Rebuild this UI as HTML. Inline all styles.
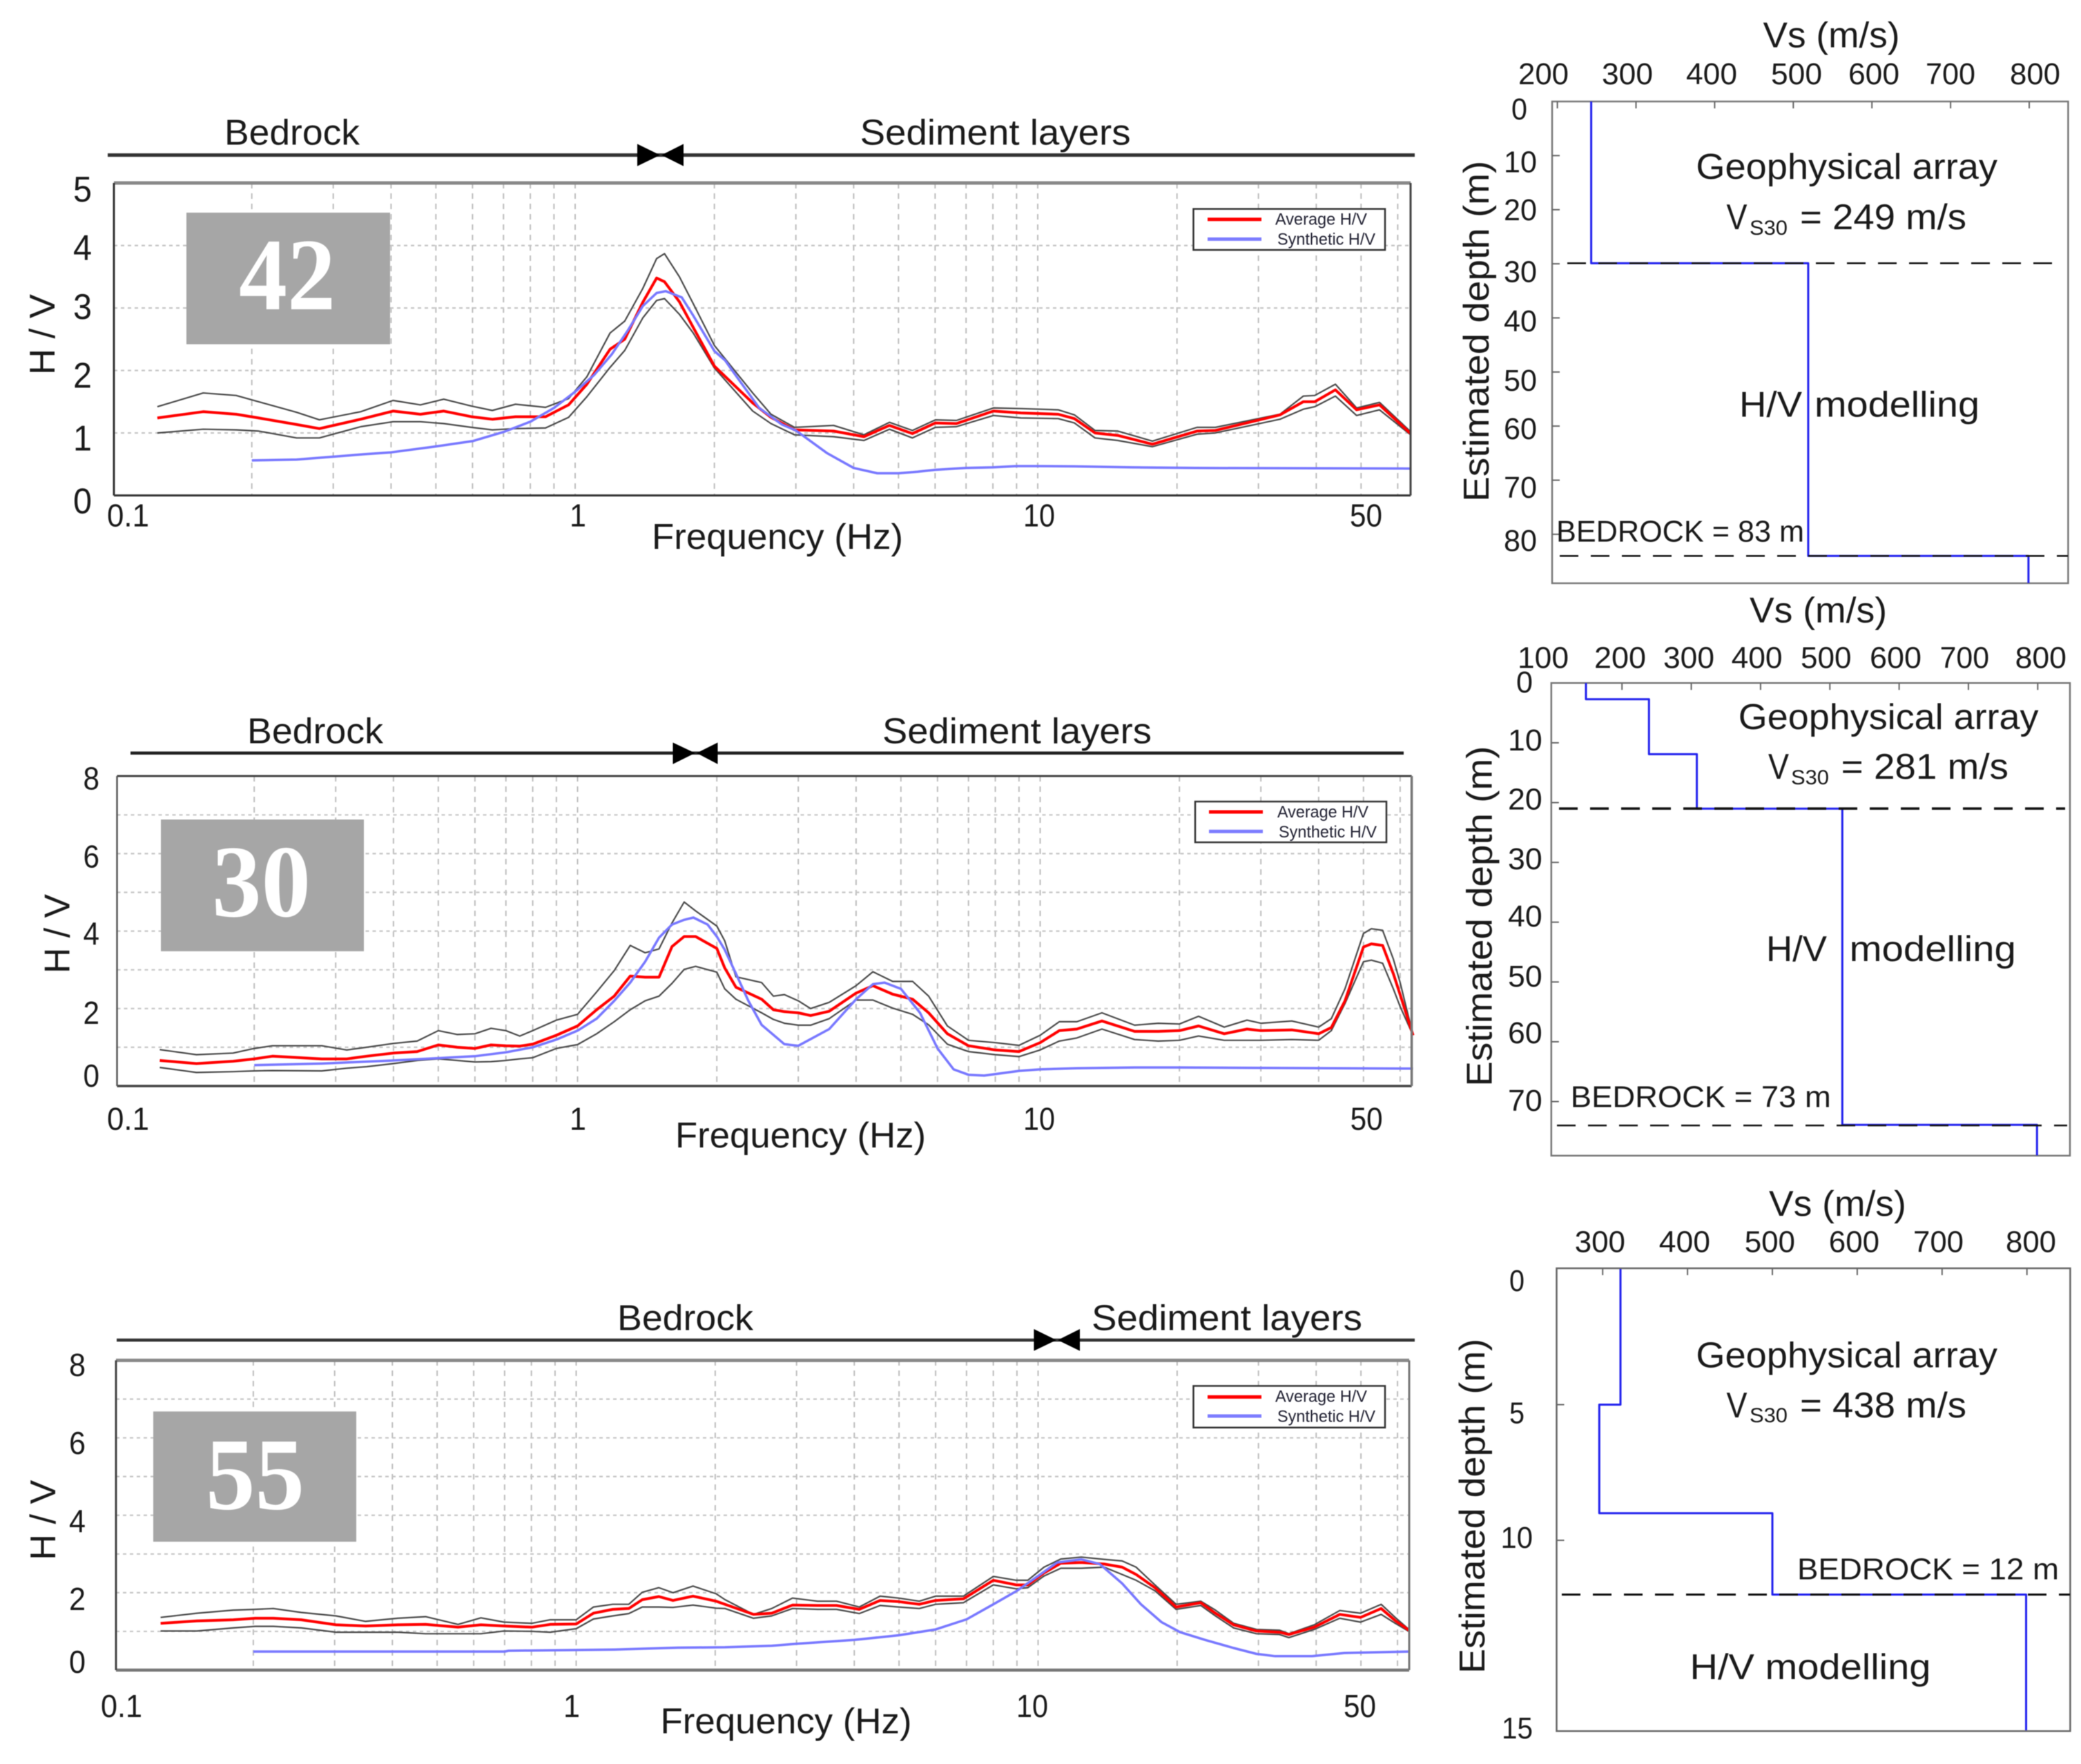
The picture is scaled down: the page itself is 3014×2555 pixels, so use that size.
<!DOCTYPE html>
<html lang="en">
<head>
<meta charset="utf-8">
<title>H/V curves and Vs profiles</title>
<style>
html,body{margin:0;padding:0;background:#fff;}
svg{display:block;filter:blur(0.6px);}
text{font-family:"Liberation Sans",sans-serif;fill:#1a1a1a;}
.t{font-size:52px;}
.tk{font-size:46px;}
.rt{font-size:44px;}
.lg{font-size:24px;fill:#223;}
.num{font-family:"Liberation Serif",serif;font-weight:bold;font-size:149px;fill:#fff;}
.sub{font-size:30px;}
</style>
</head>
<body>
<svg id="figure" xmlns="http://www.w3.org/2000/svg" width="3014" height="2555" viewBox="0 0 3014 2555">
<rect x="0" y="0" width="3014" height="2555" fill="#fff"/>

<!-- ============ PANEL 42 ============ -->
<g>
  <line x1="156" y1="224.6" x2="2049" y2="224.6" stroke="#333" stroke-width="5"/>
  <polygon points="923,208.5 956,224.6 923,240.6" fill="#000"/>
  <polygon points="990,208.5 958,224.6 990,240.6" fill="#000"/>
  <text class="t" x="325" y="209.4" textLength="196" lengthAdjust="spacingAndGlyphs">Bedrock</text>
  <text class="t" x="1245.6" y="209.4" textLength="392" lengthAdjust="spacingAndGlyphs">Sediment layers</text>
  <g id="p1-marks"></g>
  <line x1="165" y1="265" x2="2043" y2="265" stroke="#888" stroke-width="5"/>
  <line x1="165" y1="717.6" x2="2043" y2="717.6" stroke="#333" stroke-width="3"/>
  <line x1="165" y1="265" x2="165" y2="717.6" stroke="#333" stroke-width="3"/>
  <line x1="2043" y1="265" x2="2043" y2="717.6" stroke="#444" stroke-width="3"/>
  <rect x="270" y="308" width="295" height="190.6" fill="#a6a6a6"/>
  <text class="num" x="346" y="448" textLength="140" lengthAdjust="spacingAndGlyphs">42</text>
  <g>
    <text class="t" x="106" y="291.8" textLength="27" lengthAdjust="spacingAndGlyphs">5</text>
    <text class="t" x="106" y="376.3" textLength="27" lengthAdjust="spacingAndGlyphs">4</text>
    <text class="t" x="106" y="461.8" textLength="27" lengthAdjust="spacingAndGlyphs">3</text>
    <text class="t" x="106" y="561.5" textLength="27" lengthAdjust="spacingAndGlyphs">2</text>
    <text class="t" x="106" y="652.6" textLength="27" lengthAdjust="spacingAndGlyphs">1</text>
    <text class="t" x="106" y="743.6" textLength="27" lengthAdjust="spacingAndGlyphs">0</text>
  </g>
  <g>
    <text class="tk" x="155" y="762.3" textLength="61" lengthAdjust="spacingAndGlyphs">0.1</text>
    <text class="tk" x="825" y="762.3" textLength="24" lengthAdjust="spacingAndGlyphs">1</text>
    <text class="tk" x="1482" y="762.3" textLength="46" lengthAdjust="spacingAndGlyphs">10</text>
    <text class="tk" x="1955" y="762.3" textLength="47" lengthAdjust="spacingAndGlyphs">50</text>
  </g>
  <text class="t" x="944" y="794.8" textLength="364" lengthAdjust="spacingAndGlyphs">Frequency (Hz)</text>
  <text class="t" transform="translate(79,543) rotate(-90)" textLength="117" lengthAdjust="spacingAndGlyphs">H / V</text>
  <g>
    <rect x="1728.5" y="302.6" width="277.5" height="59.4" fill="#fff" stroke="#333" stroke-width="2.5"/>
    <line x1="1749" y1="317.8" x2="1827" y2="317.8" stroke="#f00" stroke-width="5"/>
    <line x1="1749" y1="346.4" x2="1827" y2="346.4" stroke="#7c7cff" stroke-width="5"/>
    <text class="lg" x="1847" y="325.6" textLength="133" lengthAdjust="spacingAndGlyphs">Average H/V</text>
    <text class="lg" x="1850" y="354.7" textLength="142" lengthAdjust="spacingAndGlyphs">Synthetic H/V</text>
  </g>
</g>

<!-- ============ PANEL 30 ============ -->
<g>
  <line x1="189" y1="1090.7" x2="2033" y2="1090.7" stroke="#222" stroke-width="4.5"/>
  <polygon points="974.5,1075.5 1006.7,1090.7 974.5,1106.7" fill="#000"/>
  <polygon points="1039.5,1075.5 1009,1090.7 1039.5,1106.7" fill="#000"/>
  <text class="t" x="358" y="1076.4" textLength="197" lengthAdjust="spacingAndGlyphs">Bedrock</text>
  <text class="t" x="1278" y="1076.4" textLength="390" lengthAdjust="spacingAndGlyphs">Sediment layers</text>
  <g id="p2-marks"></g>
  <line x1="169.5" y1="1124" x2="2044.6" y2="1124" stroke="#444" stroke-width="3"/>
  <line x1="169.5" y1="1573" x2="2044.6" y2="1573" stroke="#444" stroke-width="3.5"/>
  <line x1="169.5" y1="1124" x2="169.5" y2="1573" stroke="#555" stroke-width="2.5"/>
  <line x1="2044.6" y1="1124" x2="2044.6" y2="1573" stroke="#777" stroke-width="3.5"/>
  <rect x="233" y="1187" width="294" height="190.8" fill="#a6a6a6"/>
  <text class="num" x="307" y="1327" textLength="143" lengthAdjust="spacingAndGlyphs">30</text>
  <g>
    <text class="tk" x="120.5" y="1143.6" textLength="23.5" lengthAdjust="spacingAndGlyphs">8</text>
    <text class="tk" x="120.5" y="1256.3" textLength="23.5" lengthAdjust="spacingAndGlyphs">6</text>
    <text class="tk" x="120.5" y="1368" textLength="23.5" lengthAdjust="spacingAndGlyphs">4</text>
    <text class="tk" x="120.5" y="1483" textLength="23.5" lengthAdjust="spacingAndGlyphs">2</text>
    <text class="tk" x="120.5" y="1573.8" textLength="23.5" lengthAdjust="spacingAndGlyphs">0</text>
  </g>
  <g>
    <text class="tk" x="155" y="1636.7" textLength="61" lengthAdjust="spacingAndGlyphs">0.1</text>
    <text class="tk" x="825" y="1636.7" textLength="24" lengthAdjust="spacingAndGlyphs">1</text>
    <text class="tk" x="1482" y="1636.7" textLength="46" lengthAdjust="spacingAndGlyphs">10</text>
    <text class="tk" x="1955.6" y="1636.7" textLength="47" lengthAdjust="spacingAndGlyphs">50</text>
  </g>
  <text class="t" x="978" y="1661.8" textLength="363" lengthAdjust="spacingAndGlyphs">Frequency (Hz)</text>
  <text class="t" transform="translate(100.5,1410) rotate(-90)" textLength="115" lengthAdjust="spacingAndGlyphs">H / V</text>
  <g>
    <rect x="1731" y="1161" width="277" height="59" fill="#fff" stroke="#333" stroke-width="2.5"/>
    <line x1="1751" y1="1176" x2="1829" y2="1176" stroke="#f00" stroke-width="5"/>
    <line x1="1751" y1="1204.3" x2="1829" y2="1204.3" stroke="#7c7cff" stroke-width="5"/>
    <text class="lg" x="1850" y="1184" textLength="132" lengthAdjust="spacingAndGlyphs">Average H/V</text>
    <text class="lg" x="1852" y="1213" textLength="142" lengthAdjust="spacingAndGlyphs">Synthetic H/V</text>
  </g>
</g>

<!-- ============ PANEL 55 ============ -->
<g>
  <line x1="169" y1="1941" x2="2049" y2="1941" stroke="#333" stroke-width="4.5"/>
  <polygon points="1497.4,1925 1530,1941 1497.4,1956.6" fill="#000"/>
  <polygon points="1564,1925 1532,1941 1564,1956.6" fill="#000"/>
  <text class="t" x="894" y="1926.5" textLength="197" lengthAdjust="spacingAndGlyphs">Bedrock</text>
  <text class="t" x="1581" y="1926.5" textLength="392" lengthAdjust="spacingAndGlyphs">Sediment layers</text>
  <g id="p3-marks"></g>
  <line x1="168" y1="1970.4" x2="2041" y2="1970.4" stroke="#888" stroke-width="5"/>
  <line x1="168" y1="2419" x2="2041" y2="2419" stroke="#777" stroke-width="4.5"/>
  <line x1="168" y1="1970.4" x2="168" y2="2419" stroke="#444" stroke-width="3"/>
  <line x1="2041" y1="1970.4" x2="2041" y2="2419" stroke="#777" stroke-width="3"/>
  <rect x="222" y="2044.4" width="294" height="188.6" fill="#a6a6a6"/>
  <text class="num" x="298" y="2185.6" textLength="143" lengthAdjust="spacingAndGlyphs">55</text>
  <g>
    <text class="tk" x="100" y="1993" textLength="24" lengthAdjust="spacingAndGlyphs">8</text>
    <text class="tk" x="100" y="2106" textLength="24" lengthAdjust="spacingAndGlyphs">6</text>
    <text class="tk" x="100" y="2219" textLength="24" lengthAdjust="spacingAndGlyphs">4</text>
    <text class="tk" x="100" y="2332" textLength="24" lengthAdjust="spacingAndGlyphs">2</text>
    <text class="tk" x="100" y="2423" textLength="24" lengthAdjust="spacingAndGlyphs">0</text>
  </g>
  <g>
    <text class="tk" x="146" y="2487" textLength="60" lengthAdjust="spacingAndGlyphs">0.1</text>
    <text class="tk" x="816" y="2487" textLength="24" lengthAdjust="spacingAndGlyphs">1</text>
    <text class="tk" x="1472" y="2487" textLength="46" lengthAdjust="spacingAndGlyphs">10</text>
    <text class="tk" x="1946" y="2487" textLength="47" lengthAdjust="spacingAndGlyphs">50</text>
  </g>
  <text class="t" x="956.5" y="2510.6" textLength="364" lengthAdjust="spacingAndGlyphs">Frequency (Hz)</text>
  <text class="t" transform="translate(80,2259.7) rotate(-90)" textLength="116" lengthAdjust="spacingAndGlyphs">H / V</text>
  <g>
    <rect x="1728.5" y="2007.4" width="277.5" height="60.3" fill="#fff" stroke="#333" stroke-width="2.5"/>
    <line x1="1749" y1="2023.4" x2="1827" y2="2023.4" stroke="#f00" stroke-width="5"/>
    <line x1="1749" y1="2051" x2="1827" y2="2051" stroke="#7c7cff" stroke-width="5"/>
    <text class="lg" x="1847" y="2030.7" textLength="133" lengthAdjust="spacingAndGlyphs">Average H/V</text>
    <text class="lg" x="1850" y="2059.5" textLength="142" lengthAdjust="spacingAndGlyphs">Synthetic H/V</text>
  </g>
</g>

<!-- ============ PROFILE 1 ============ -->
<g>
  <text class="t" x="2553.5" y="68.6" textLength="198" lengthAdjust="spacingAndGlyphs">Vs (m/s)</text>
  <g>
    <text class="rt" x="2199" y="121.8" textLength="73" lengthAdjust="spacingAndGlyphs">200</text>
    <text class="rt" x="2320" y="121.8" textLength="74" lengthAdjust="spacingAndGlyphs">300</text>
    <text class="rt" x="2442" y="121.8" textLength="74" lengthAdjust="spacingAndGlyphs">400</text>
    <text class="rt" x="2565" y="121.8" textLength="74" lengthAdjust="spacingAndGlyphs">500</text>
    <text class="rt" x="2677" y="121.8" textLength="74" lengthAdjust="spacingAndGlyphs">600</text>
    <text class="rt" x="2789" y="121.8" textLength="72" lengthAdjust="spacingAndGlyphs">700</text>
    <text class="rt" x="2911" y="121.8" textLength="73" lengthAdjust="spacingAndGlyphs">800</text>
  </g>
  <g>
    <text class="rt" x="2189" y="172.8" textLength="23" lengthAdjust="spacingAndGlyphs">0</text>
    <text class="rt" x="2178" y="249.6" textLength="48" lengthAdjust="spacingAndGlyphs">10</text>
    <text class="rt" x="2178" y="319" textLength="48" lengthAdjust="spacingAndGlyphs">20</text>
    <text class="rt" x="2178" y="408.7" textLength="48" lengthAdjust="spacingAndGlyphs">30</text>
    <text class="rt" x="2178" y="480" textLength="48" lengthAdjust="spacingAndGlyphs">40</text>
    <text class="rt" x="2178" y="566" textLength="48" lengthAdjust="spacingAndGlyphs">50</text>
    <text class="rt" x="2178" y="636" textLength="48" lengthAdjust="spacingAndGlyphs">60</text>
    <text class="rt" x="2178" y="721" textLength="48" lengthAdjust="spacingAndGlyphs">70</text>
    <text class="rt" x="2178" y="798" textLength="48" lengthAdjust="spacingAndGlyphs">80</text>
  </g>
  <text class="t" transform="translate(2156,726.8) rotate(-90)" textLength="494" lengthAdjust="spacingAndGlyphs">Estimated depth (m)</text>
  <rect x="2248" y="147" width="747.4" height="697.8" fill="none" stroke="#777" stroke-width="2.5"/>
  <g id="r1-marks"></g>
  <text class="t" x="2456.4" y="259" textLength="436.6" lengthAdjust="spacingAndGlyphs">Geophysical array</text>
  <text class="t" x="2500.5" y="331.9" textLength="30" lengthAdjust="spacingAndGlyphs">V</text>
  <text class="sub" x="2534" y="340" textLength="55" lengthAdjust="spacingAndGlyphs">S30</text>
  <text class="t" x="2607" y="331.9" textLength="241" lengthAdjust="spacingAndGlyphs">= 249 m/s</text>
  <text class="t" x="2519" y="603.4" textLength="91" lengthAdjust="spacingAndGlyphs">H/V</text>
  <text class="t" x="2628" y="603.4" textLength="239" lengthAdjust="spacingAndGlyphs">modelling</text>
  <text class="rt" x="2254" y="784.4" textLength="359" lengthAdjust="spacingAndGlyphs">BEDROCK = 83 m</text>
</g>

<!-- ============ PROFILE 2 ============ -->
<g>
  <text class="t" x="2534" y="901.5" textLength="199" lengthAdjust="spacingAndGlyphs">Vs (m/s)</text>
  <g>
    <text class="rt" x="2198" y="967.6" textLength="74" lengthAdjust="spacingAndGlyphs">100</text>
    <text class="rt" x="2309" y="967.6" textLength="75" lengthAdjust="spacingAndGlyphs">200</text>
    <text class="rt" x="2409" y="967.6" textLength="74" lengthAdjust="spacingAndGlyphs">300</text>
    <text class="rt" x="2507.6" y="967.6" textLength="74" lengthAdjust="spacingAndGlyphs">400</text>
    <text class="rt" x="2608" y="967.6" textLength="73.5" lengthAdjust="spacingAndGlyphs">500</text>
    <text class="rt" x="2708" y="967.6" textLength="75" lengthAdjust="spacingAndGlyphs">600</text>
    <text class="rt" x="2809.6" y="967.6" textLength="71.4" lengthAdjust="spacingAndGlyphs">700</text>
    <text class="rt" x="2918.6" y="967.6" textLength="74.4" lengthAdjust="spacingAndGlyphs">800</text>
  </g>
  <g>
    <text class="rt" x="2196" y="1002.8" textLength="24" lengthAdjust="spacingAndGlyphs">0</text>
    <text class="rt" x="2184" y="1086.9" textLength="49.7" lengthAdjust="spacingAndGlyphs">10</text>
    <text class="rt" x="2184" y="1172.5" textLength="49.7" lengthAdjust="spacingAndGlyphs">20</text>
    <text class="rt" x="2184" y="1259" textLength="49.7" lengthAdjust="spacingAndGlyphs">30</text>
    <text class="rt" x="2184" y="1342" textLength="49.7" lengthAdjust="spacingAndGlyphs">40</text>
    <text class="rt" x="2184" y="1429" textLength="49.7" lengthAdjust="spacingAndGlyphs">50</text>
    <text class="rt" x="2184" y="1511" textLength="49.7" lengthAdjust="spacingAndGlyphs">60</text>
    <text class="rt" x="2184" y="1608.8" textLength="49.7" lengthAdjust="spacingAndGlyphs">70</text>
  </g>
  <text class="t" transform="translate(2160.4,1573.6) rotate(-90)" textLength="493" lengthAdjust="spacingAndGlyphs">Estimated depth (m)</text>
  <rect x="2246.8" y="989.3" width="751.2" height="684.6" fill="none" stroke="#777" stroke-width="2.5"/>
  <g id="r2-marks"></g>
  <text class="t" x="2517.8" y="1056" textLength="434.7" lengthAdjust="spacingAndGlyphs">Geophysical array</text>
  <text class="t" x="2561" y="1128" textLength="30" lengthAdjust="spacingAndGlyphs">V</text>
  <text class="sub" x="2594" y="1136" textLength="55" lengthAdjust="spacingAndGlyphs">S30</text>
  <text class="t" x="2666.7" y="1128" textLength="242.3" lengthAdjust="spacingAndGlyphs">= 281 m/s</text>
  <text class="t" x="2558" y="1392" textLength="88" lengthAdjust="spacingAndGlyphs">H/V</text>
  <text class="t" x="2678.6" y="1392" textLength="241.2" lengthAdjust="spacingAndGlyphs">modelling</text>
  <text class="rt" x="2274.8" y="1603.4" textLength="377" lengthAdjust="spacingAndGlyphs">BEDROCK = 73 m</text>
</g>

<!-- ============ PROFILE 3 ============ -->
<g>
  <text class="t" x="2562" y="1761.2" textLength="198.8" lengthAdjust="spacingAndGlyphs">Vs (m/s)</text>
  <g>
    <text class="rt" x="2280.7" y="1813.4" textLength="73.3" lengthAdjust="spacingAndGlyphs">300</text>
    <text class="rt" x="2402.8" y="1813.4" textLength="74.2" lengthAdjust="spacingAndGlyphs">400</text>
    <text class="rt" x="2526.7" y="1813.4" textLength="73.3" lengthAdjust="spacingAndGlyphs">500</text>
    <text class="rt" x="2648.8" y="1813.4" textLength="73.2" lengthAdjust="spacingAndGlyphs">600</text>
    <text class="rt" x="2771" y="1813.4" textLength="73" lengthAdjust="spacingAndGlyphs">700</text>
    <text class="rt" x="2905" y="1813.4" textLength="73" lengthAdjust="spacingAndGlyphs">800</text>
  </g>
  <g>
    <text class="rt" x="2186" y="1870" textLength="22" lengthAdjust="spacingAndGlyphs">0</text>
    <text class="rt" x="2186" y="2061.3" textLength="22" lengthAdjust="spacingAndGlyphs">5</text>
    <text class="rt" x="2173.5" y="2242" textLength="46.5" lengthAdjust="spacingAndGlyphs">10</text>
    <text class="rt" x="2175" y="2518" textLength="45" lengthAdjust="spacingAndGlyphs">15</text>
  </g>
  <text class="t" transform="translate(2150,2423.9) rotate(-90)" textLength="485" lengthAdjust="spacingAndGlyphs">Estimated depth (m)</text>
  <rect x="2254.5" y="1837" width="743.9" height="670.4" fill="none" stroke="#666" stroke-width="2.5"/>
  <g id="r3-marks"></g>
  <text class="t" x="2456.4" y="1980.5" textLength="436.6" lengthAdjust="spacingAndGlyphs">Geophysical array</text>
  <text class="t" x="2500.5" y="2053.2" textLength="30" lengthAdjust="spacingAndGlyphs">V</text>
  <text class="sub" x="2534" y="2060.2" textLength="55" lengthAdjust="spacingAndGlyphs">S30</text>
  <text class="t" x="2607" y="2053.2" textLength="241" lengthAdjust="spacingAndGlyphs">= 438 m/s</text>
  <text class="rt" x="2603" y="2287.6" textLength="379" lengthAdjust="spacingAndGlyphs">BEDROCK = 12 m</text>
  <text class="t" x="2447.5" y="2432" textLength="349" lengthAdjust="spacingAndGlyphs">H/V modelling</text>
</g>
</svg>

<script>
// ---------- shared tick values ----------
const gridFrequencies = [0.2,0.3,0.4,0.5,0.6,0.7,0.8,0.9,1,2,3,4,5,6,7,8,9,10,20,30,40,50,60];
const p1GridValues = [1,2,3,4];
const p2GridValues = [1,2,3,4,5,6,7];
const p3GridValues = [1,2,3,4,5,6,7];

// ---------- H/V panel 42 ----------
const p1Freq = [0.125,0.157,0.185,0.207,0.25,0.28,0.344,0.404,0.463,0.52,0.597,0.662,0.743,0.863,0.968,1.06,1.19,1.28,1.4,1.5,1.56,1.68,1.8,2.0,2.42,2.65,2.98,3.62,4.21,4.78,5.36,6.01,6.67,8.02,9.2,11.07,12,13.3,14.9,17.7,22.1,24.2,33.4,37.5,39.7,44,48.9,54.8,64];
const p1Upper = [1.42,1.64,1.60,1.50,1.33,1.21,1.34,1.52,1.45,1.54,1.43,1.36,1.46,1.41,1.55,1.90,2.6,2.79,3.31,3.79,3.87,3.5,3.07,2.4,1.64,1.30,1.09,1.12,.97,1.17,1.04,1.21,1.2,1.40,1.39,1.37,1.29,1.04,1.03,.87,1.09,1.09,1.30,1.59,1.6,1.78,1.40,1.49,1.02];
const p1Average = [1.24,1.34,1.30,1.24,1.135,1.07,1.22,1.35,1.30,1.35,1.26,1.22,1.26,1.26,1.45,1.78,2.34,2.50,3.09,3.48,3.42,3.10,2.69,2.07,1.48,1.25,1.05,1.03,.94,1.12,.99,1.16,1.15,1.35,1.32,1.30,1.23,1.0,.96,.82,1.03,1.04,1.29,1.50,1.50,1.69,1.37,1.45,.99];
const p1Lower = [1.0,1.06,1.05,1.03,.92,.92,1.10,1.18,1.18,1.15,1.09,1.05,1.07,1.08,1.25,1.58,2.05,2.32,2.84,3.12,3.15,2.9,2.6,2.04,1.35,1.15,.97,.94,.88,1.06,.92,1.09,1.10,1.28,1.24,1.23,1.16,.92,.88,.78,.98,1.0,1.22,1.38,1.42,1.59,1.28,1.37,.97];
const p1SynthFreq = [.2,.25,.35,.4,.5,.6,.7,.8,.9,1,1.1,1.2,1.3,1.4,1.5,1.57,1.7,1.8,2,2.11,2.2,2.5,2.8,3,3.5,4,4.5,5,5.5,6,7,8,9,10,12,16,22,64];
const p1Synthetic = [.56,.575,.66,.69,.785,.87,1.015,1.18,1.40,1.66,1.93,2.26,2.64,3.03,3.24,3.27,3.17,2.88,2.31,2.16,1.97,1.40,1.135,1.04,.68,.44,.355,.355,.38,.41,.44,.45,.47,.47,.465,.45,.44,.43];

// ---------- H/V panel 30 ----------
const p2Freq = [.125,.15,.18,.2,.219,.28,.317,.35,.4,.45,.5,.55,.6,.65,.7,.75,.8,.9,1,1.1,1.2,1.3,1.4,1.5,1.6,1.7,1.8,2,2.08,2.2,2.5,2.65,2.8,3,3.19,3.5,4,4.35,4.8,5.3,5.74,6.3,7,8,9,10,11,12,13.6,16,18,20,22,25,28,30,35,40,42.6,45.6,50,52,55,58,60,64];
const p2Upper = [.94,.81,.85,.97,1.04,1.04,.93,1.0,1.10,1.16,1.43,1.33,1.35,1.49,1.43,1.29,1.43,1.70,1.85,2.43,2.98,3.63,3.44,3.54,4.21,4.75,4.52,4.13,3.75,2.82,2.67,2.32,2.36,2.2,2.0,2.16,2.59,2.95,2.70,2.70,2.32,1.55,1.18,1.12,1.05,1.31,1.66,1.66,1.89,1.57,1.62,1.60,1.80,1.52,1.70,1.62,1.68,1.52,1.74,2.51,3.94,4.06,4.02,3.28,2.67,1.31];
const p2Average = [.66,.58,.64,.70,.77,.70,.70,.77,.85,.89,1.06,1.0,.97,1.06,1.04,1.03,1.08,1.31,1.55,1.97,2.32,2.84,2.81,2.81,3.60,3.86,3.86,3.55,3.05,2.55,2.24,1.97,1.92,1.89,1.82,1.93,2.40,2.59,2.37,2.24,1.89,1.35,1.04,.93,.89,1.12,1.43,1.47,1.68,1.41,1.41,1.43,1.55,1.35,1.47,1.43,1.45,1.35,1.51,2.2,3.59,3.67,3.63,2.90,2.36,1.31];
const p2Lower = [.48,.35,.37,.39,.40,.39,.46,.50,.58,.66,.70,.66,.62,.63,.66,.70,.73,.97,1.07,1.35,1.66,1.97,2.2,2.32,2.65,3.01,3.09,2.94,2.51,2.24,1.89,1.72,1.62,1.57,1.57,1.74,2.22,2.22,2.01,1.85,1.58,1.08,.89,.81,.76,.93,1.16,1.24,1.47,1.20,1.16,1.18,1.29,1.18,1.18,1.18,1.20,1.18,1.43,2.13,3.21,3.25,3.17,2.51,2.05,1.31];
const p2SynthFreq = [.2,.28,.4,.5,.6,.7,.8,.9,1,1.1,1.2,1.3,1.4,1.5,1.6,1.7,1.78,1.91,2,2.08,2.2,2.34,2.5,2.8,3,3.5,4,4.35,4.61,5,5.5,6,6.5,7,7.57,9,10,12,16,20,64];
const p2Synthetic = [.54,.58,.66,.72,.77,.87,1.0,1.20,1.43,1.74,2.2,2.67,3.21,3.83,4.17,4.29,4.35,4.17,3.86,3.52,2.9,2.2,1.58,1.08,1.04,1.47,2.24,2.63,2.67,2.51,1.89,.97,.43,.29,.27,.39,.43,.46,.48,.48,.45];

// ---------- H/V panel 55 ----------
const p3Freq = [.126,.151,.181,.202,.221,.254,.302,.35,.411,.472,.555,.622,.698,.802,.879,1,1.09,1.2,1.3,1.39,1.51,1.62,1.79,2.01,2.10,2.42,2.65,2.94,3.33,3.66,4.1,4.55,4.99,5.53,6.0,6.89,8.0,8.97,9.5,10.3,11.2,12.4,13.9,15.2,16.3,17.9,19.9,22.5,24.2,26.5,29.7,33.3,34.9,39.6,45,49.9,55.3,59.3,63.5];
const p3Upper = [1.36,1.47,1.55,1.57,1.59,1.49,1.40,1.26,1.34,1.38,1.18,1.35,1.24,1.21,1.30,1.30,1.63,1.70,1.70,2.01,2.13,2.0,2.17,1.97,1.82,1.44,1.59,1.86,1.78,1.78,1.63,1.91,1.86,1.78,1.91,1.91,2.42,2.32,2.32,2.66,2.87,2.92,2.86,2.82,2.66,2.20,1.70,1.78,1.55,1.21,1.05,1.03,.94,1.17,1.54,1.47,1.70,1.36,1.05];
const p3Average = [1.21,1.27,1.30,1.34,1.34,1.30,1.17,1.14,1.17,1.18,1.11,1.17,1.14,1.11,1.18,1.19,1.47,1.57,1.59,1.82,1.90,1.80,1.91,1.78,1.70,1.44,1.47,1.68,1.67,1.67,1.57,1.80,1.77,1.70,1.80,1.84,2.32,2.20,2.20,2.51,2.76,2.78,2.74,2.66,2.47,2.13,1.63,1.74,1.47,1.17,1.01,.98,.92,1.11,1.44,1.36,1.59,1.28,1.03];
const p3Lower = [1.01,1.01,1.09,1.13,1.13,1.09,.98,.98,.98,.94,.94,.94,1.01,1.0,.98,1.07,1.32,1.40,1.46,1.63,1.63,1.62,1.68,1.60,1.59,1.34,1.40,1.59,1.57,1.57,1.46,1.67,1.63,1.59,1.70,1.74,2.20,2.10,2.13,2.43,2.63,2.63,2.66,2.47,2.32,2.05,1.57,1.67,1.40,1.09,.94,.92,.84,1.05,1.34,1.24,1.44,1.21,1.0];
const p3SynthFreq = [.2,.7,.714,1.21,1.66,2.1,2.65,3.0,4.0,5,6,7,8,9,10,11,12.4,13.6,15.2,16.7,18.5,20.3,23,26.5,29.7,32.6,39.2,46,63.5];
const p3Synthetic = [.48,.48,.50,.53,.58,.59,.63,.68,.78,.90,1.05,1.31,1.70,2.05,2.43,2.78,2.86,2.74,2.24,1.70,1.24,.98,.78,.57,.42,.36,.36,.44,.48];

// ---------- Vs profiles ----------
const r1Velocity = [243,519,799];
const r1LayerDepths = [0,29.9,84,89];
const r1VsTicks = [200,300,400,500,600,700,800];
const r1DepthTicks = [10,20,30,40,50,60,70,80];
const r1Interfaces = [29.9,84];

const r2Velocity = [148,239,308,518,799];
const r2LayerDepths = [0,2.7,11.9,21,73.9,79];
const r2VsTicks = [200,300,400,500,600,700,800];
const r2DepthTicks = [10,20,30,40,50,60,70];
const r2Interfaces = [21,74];

const r3Velocity = [321,296,500,799];
const r3LayerDepths = [0,5,9,12,17];
const r3VsTicks = [300,400,500,600,700,800];
const r3DepthTicks = [5,10];
const r3Interfaces = [12];

// ---------- drawing ----------
const SVG_NS = 'http://www.w3.org/2000/svg';

function addPolyline(parent, name, points, stroke, width) {
  const el = document.createElementNS(SVG_NS, 'polyline');
  
  
  el.setAttribute('points', points.map(p => p[0].toFixed(1) + ',' + p[1].toFixed(1)).join(' '));
  el.setAttribute('fill', 'none');
  el.setAttribute('stroke', stroke);
  el.setAttribute('stroke-width', width);
  el.setAttribute('stroke-linejoin', 'round');
  parent.appendChild(el);
  return el;
}

function addLine(parent, name, x1, y1, x2, y2, stroke, width, dash) {
  const el = document.createElementNS(SVG_NS, 'line');
  
  
  el.setAttribute('x1', x1);
  el.setAttribute('y1', y1);
  el.setAttribute('x2', x2);
  el.setAttribute('y2', y2);
  el.setAttribute('stroke', stroke);
  el.setAttribute('stroke-width', width);
  if (dash) el.setAttribute('stroke-dasharray', dash);
  parent.appendChild(el);
  return el;
}

function drawHvPanel(id, tag, axis, gridValues, freq, upper, average, lower, synthFreq, synth) {
  const g = document.getElementById(id);
  const xOf = f => axis.xAtOne + axis.decade * Math.log10(f);
  const yOf = v => axis.yAtZero - axis.unit * v;
  gridFrequencies.forEach(f => {
    addLine(g, 'x-gridline-' + tag, xOf(f), axis.top, xOf(f), axis.yAtZero, '#bdbdbd', 2, '8 7');
  });
  gridValues.forEach(v => {
    addLine(g, 'y-gridline-' + tag, axis.left, yOf(v), axis.right, yOf(v), '#c6c6c6', 2.2, '5 5');
  });
  addPolyline(g, 'upper-bound-curve-' + tag, freq.map((f, i) => [xOf(f), yOf(upper[i])]), '#4a4a4a', 2.2);
  addPolyline(g, 'lower-bound-curve-' + tag, freq.map((f, i) => [xOf(f), yOf(lower[i])]), '#4a4a4a', 2.2);
  addPolyline(g, 'average-hv-curve-' + tag, freq.map((f, i) => [xOf(f), yOf(average[i])]), '#ff0000', 4);
  addPolyline(g, 'synthetic-hv-curve-' + tag, synthFreq.map((f, i) => [xOf(f), yOf(synth[i])]), '#7878ff', 3.5);
}

function drawProfile(id, tag, axis, velocity, depths, vsTicks, depthTicks, interfaces) {
  const g = document.getElementById(id);
  const xOf = v => axis.xAt + axis.perVs * (v - axis.vsRef);
  const yOf = d => axis.yAt0 + axis.perM * d;
  vsTicks.forEach(v => {
    addLine(g, 'vs-tick-mark-' + tag, xOf(v), axis.top, xOf(v), axis.top + 10, '#666', 2);
  });
  depthTicks.forEach(d => {
    addLine(g, 'depth-tick-mark-' + tag, axis.left, yOf(d), axis.left + 11, yOf(d), '#666', 2);
  });
  const pts = [];
  velocity.forEach((v, i) => {
    pts.push([xOf(v), yOf(depths[i])]);
    pts.push([xOf(v), yOf(depths[i + 1])]);
  });
  addPolyline(g, 'vs-profile-line-' + tag, pts, '#2222ee', 3);
  interfaces.forEach((d, i) => {
    addLine(g, 'interface-dashed-line-' + tag, axis.dashStart[i], yOf(d), axis.dashEnd[i], yOf(d), '#111', axis.dashWidth[i], '27 18');
  });
}

drawHvPanel('p1-marks', '42', {xAtOne:833, decade:670, yAtZero:717.6, unit:90.5, top:265, left:165, right:2043}, p1GridValues, p1Freq, p1Upper, p1Average, p1Lower, p1SynthFreq, p1Synthetic);
drawHvPanel('p2-marks', '30', {xAtOne:836.5, decade:670, yAtZero:1573, unit:56.1, top:1124, left:169.5, right:2044}, p2GridValues, p2Freq, p2Upper, p2Average, p2Lower, p2SynthFreq, p2Synthetic);
drawHvPanel('p3-marks', '55', {xAtOne:834.5, decade:669, yAtZero:2419, unit:56.07, top:1970, left:168, right:2041}, p3GridValues, p3Freq, p3Upper, p3Average, p3Lower, p3SynthFreq, p3Synthetic);

drawProfile('r1-marks', '42', {xAt:2369.5, perVs:1.139, vsRef:300, yAt0:147, perM:7.836, top:147, left:2248, dashStart:[2270,2259], dashEnd:[2988,2995], dashWidth:[2.5,2.5]}, r1Velocity, r1LayerDepths, r1VsTicks, r1DepthTicks, r1Interfaces);
drawProfile('r2-marks', '30', {xAt:2349.2, perVs:1.0035, vsRef:200, yAt0:989.3, perM:8.66, top:989.3, left:2246.8, dashStart:[2258,2255], dashEnd:[2991,2994], dashWidth:[3.5,2.5]}, r2Velocity, r2LayerDepths, r2VsTicks, r2DepthTicks, r2Interfaces);
drawProfile('r3-marks', '55', {xAt:2321.2, perVs:1.229, vsRef:300, yAt0:1838, perM:39.3, top:1837, left:2254.5, dashStart:[2262], dashEnd:[2998], dashWidth:[3]}, r3Velocity, r3LayerDepths, r3VsTicks, r3DepthTicks, r3Interfaces);
</script>
</body>
</html>
